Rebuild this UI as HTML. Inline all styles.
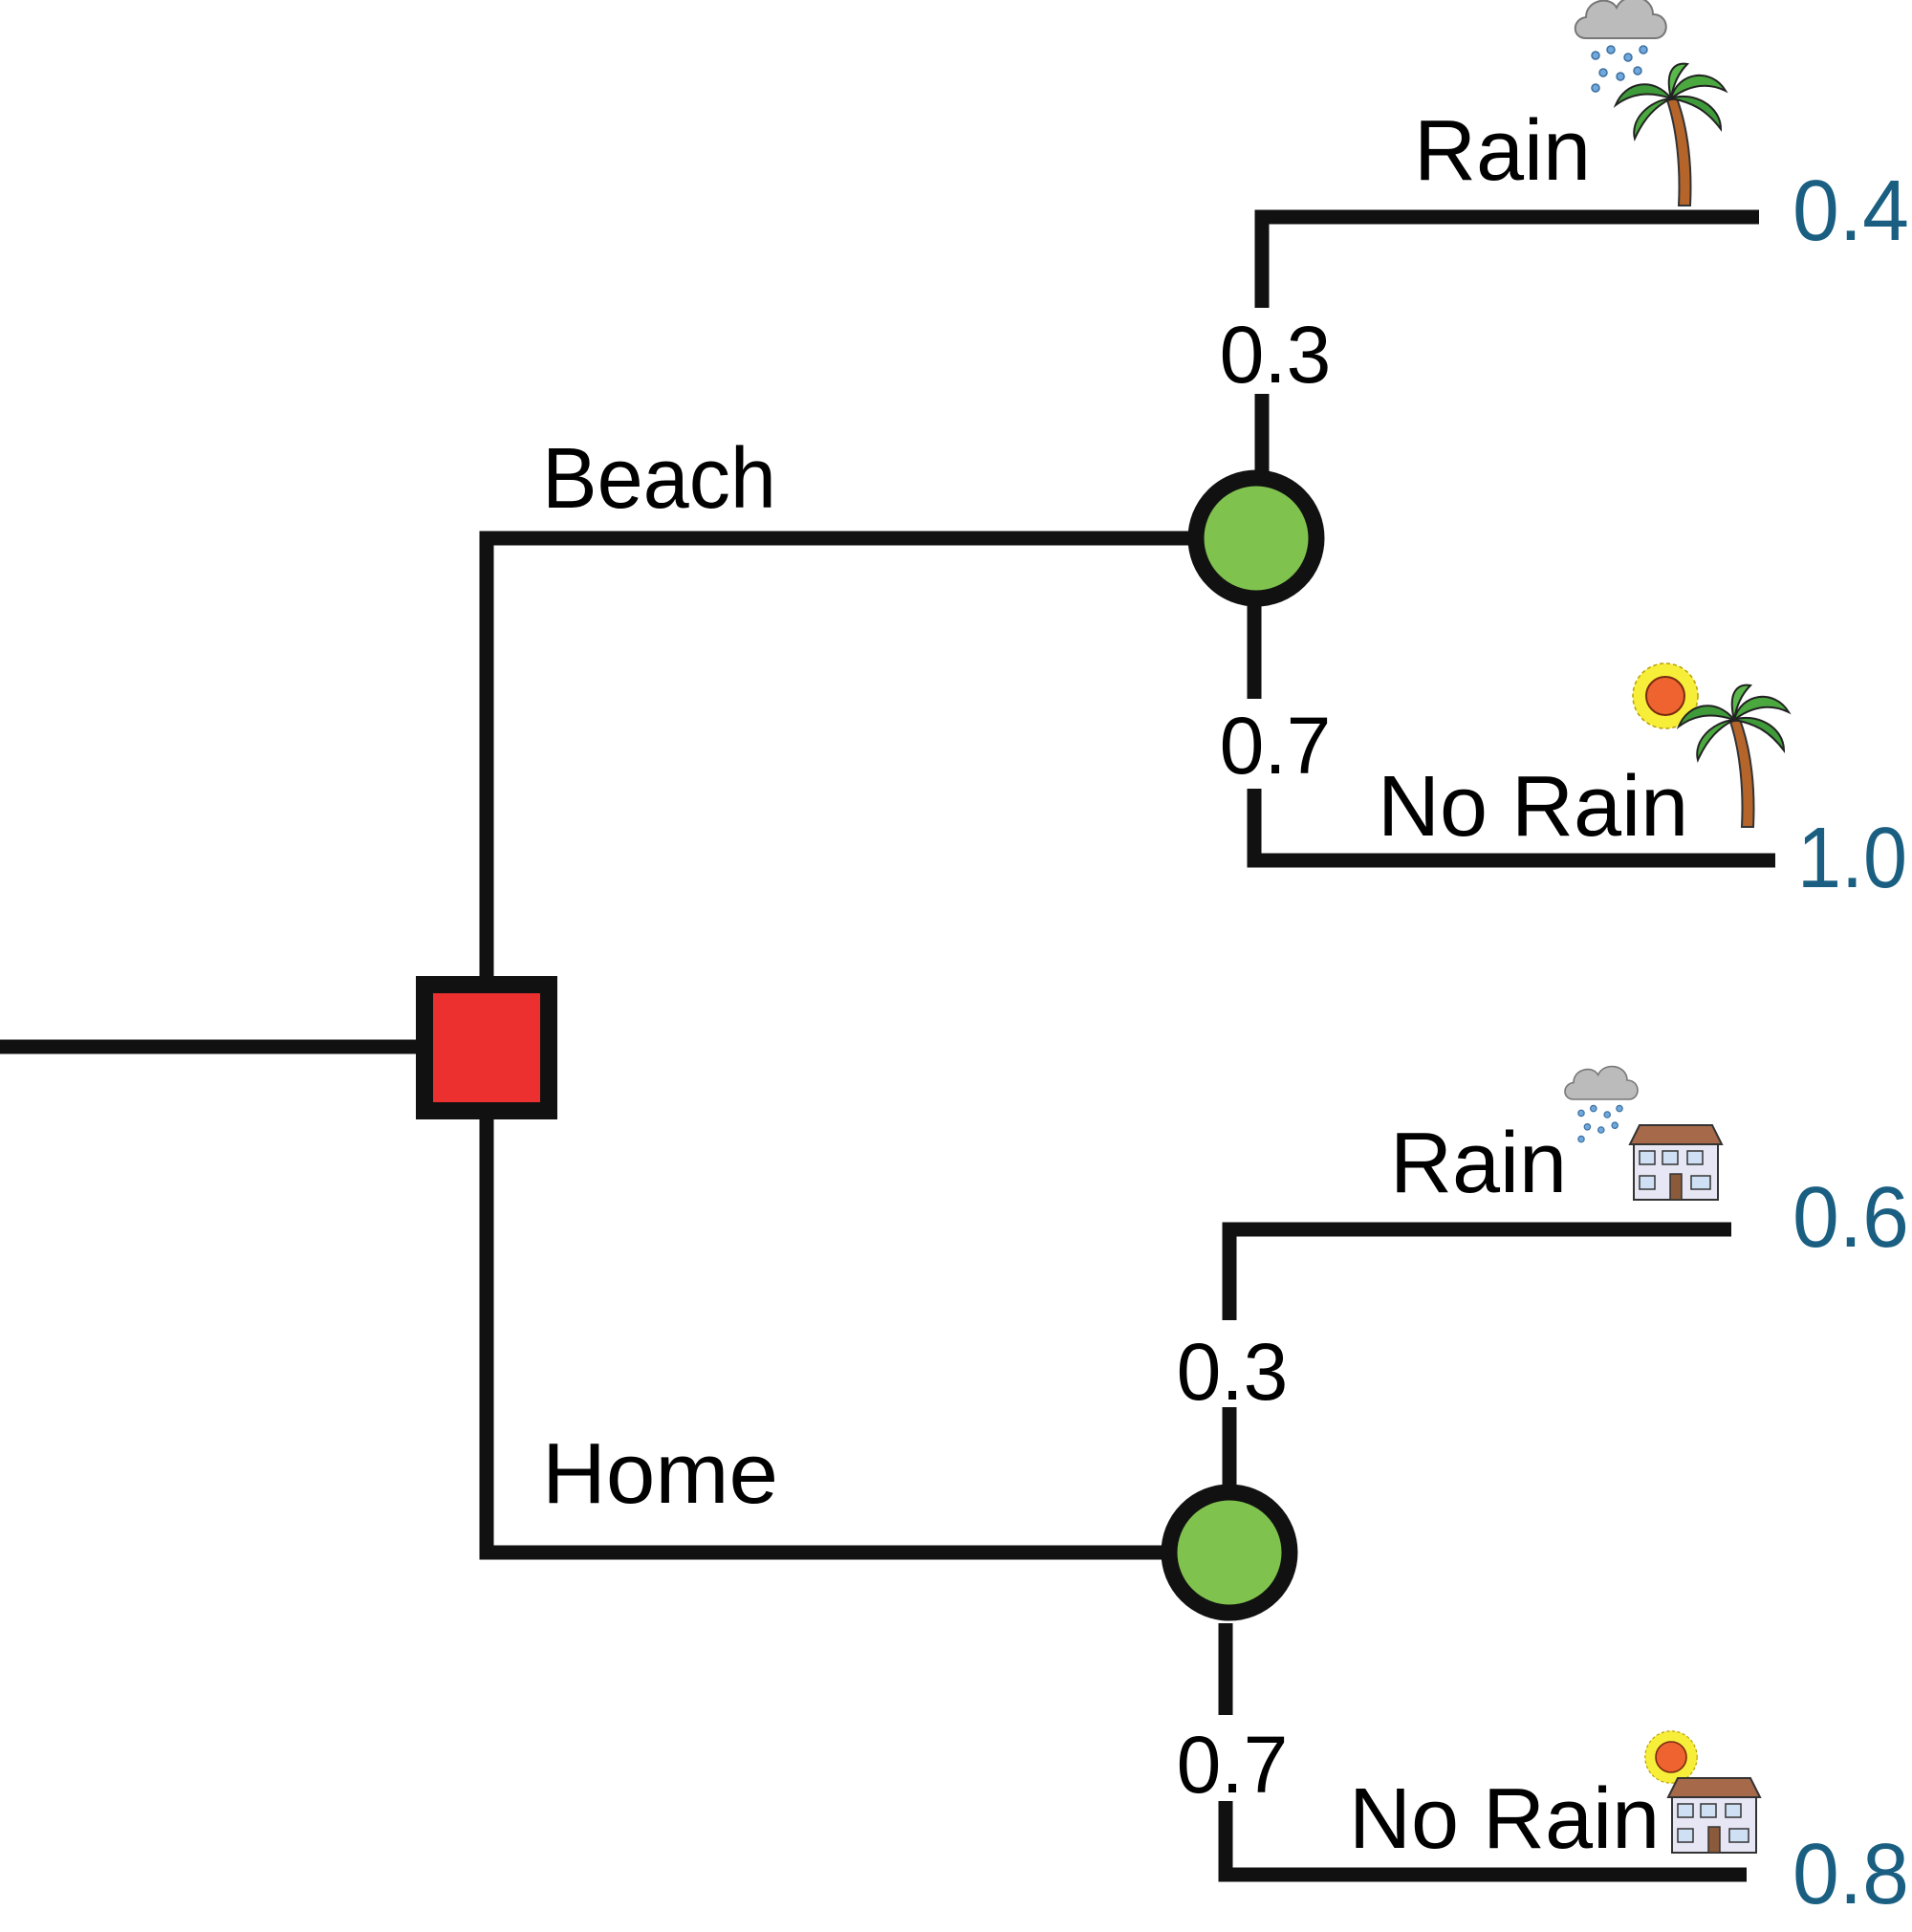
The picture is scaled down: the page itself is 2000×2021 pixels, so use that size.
<!DOCTYPE html>
<html><head><meta charset="utf-8"><style>
html,body{margin:0;padding:0;background:#fff;}
svg{display:block;}
text{font-family:"Liberation Sans",sans-serif;}
</style></head><body>
<svg width="2000" height="2021" viewBox="0 0 2000 2021" xmlns="http://www.w3.org/2000/svg">
<defs>
 <g id="palm">
  <path d="M-4,0 C-2,-40 -6,-80 -16,-110 L-6,-112 C6,-80 10,-40 8,0 Z" fill="#b5652a" stroke="#333" stroke-width="2"/>
  <path d="M-12,-112 C-30,-135 -60,-130 -70,-105 C-50,-120 -30,-118 -12,-112Z" fill="#3f9a3a" stroke="#222" stroke-width="2"/>
  <path d="M-12,-112 C-5,-140 30,-145 45,-120 C25,-130 5,-125 -12,-112Z" fill="#4aa83f" stroke="#222" stroke-width="2"/>
  <path d="M-12,-112 C10,-120 40,-105 40,-80 C25,-100 10,-108 -12,-112Z" fill="#3f9a3a" stroke="#222" stroke-width="2"/>
  <path d="M-12,-112 C-35,-110 -55,-90 -50,-70 C-40,-92 -28,-104 -12,-112Z" fill="#4aa83f" stroke="#222" stroke-width="2"/>
  <path d="M-12,-112 C-20,-145 -5,-150 5,-148 C-5,-138 -10,-125 -12,-112Z" fill="#5ab84a" stroke="#222" stroke-width="2"/>
 </g>
 <g id="cloud">
  <path d="M-40,10 C-55,10 -55,-10 -40,-12 C-40,-30 -15,-35 -8,-22 C0,-40 30,-35 30,-15 C48,-15 48,10 32,10 Z" fill="#bbb" stroke="#777" stroke-width="2"/>
  <g fill="#6fa8dc" stroke="#3d6fa0" stroke-width="1.5">
   <circle cx="-30" cy="28" r="4"/><circle cx="-14" cy="22" r="4"/><circle cx="4" cy="30" r="4"/><circle cx="20" cy="22" r="4"/>
   <circle cx="-22" cy="46" r="4"/><circle cx="-4" cy="50" r="4"/><circle cx="14" cy="44" r="4"/><circle cx="-30" cy="62" r="4"/>
  </g>
 </g>
 <g id="sun">
  <circle r="34" fill="#f7ee3a" stroke="#b9a000" stroke-width="1.5" stroke-dasharray="4 3"/>
  <circle r="20" fill="#ee6330" stroke="#7a2a10" stroke-width="2"/>
 </g>
 <g id="house">
  <path d="M-48,-55 L-38,-75 L38,-75 L48,-55 Z" fill="#a66a4a" stroke="#333" stroke-width="2"/>
  <rect x="-44" y="-55" width="88" height="58" fill="#e6e6f4" stroke="#333" stroke-width="2"/>
  <g fill="#cfe0f5" stroke="#333" stroke-width="1.5">
   <rect x="-38" y="-48" width="16" height="14"/><rect x="-14" y="-48" width="16" height="14"/><rect x="12" y="-48" width="16" height="14"/>
   <rect x="-38" y="-22" width="16" height="14"/><rect x="16" y="-22" width="20" height="14"/>
  </g>
  <rect x="-6" y="-24" width="12" height="27" fill="#8a5a3a" stroke="#333" stroke-width="1.5"/>
 </g>
</defs>
<g stroke="#111" stroke-width="15" fill="none" stroke-linecap="butt">
 <line x1="0" y1="1095" x2="440" y2="1095"/>
 <polyline points="1250,563 509,563 509,1624 1224,1624"/>
 <polyline points="1320,322 1320,227 1840,227"/>
 <line x1="1320" y1="412" x2="1320" y2="500"/>
 <line x1="1312" y1="631" x2="1312" y2="731"/>
 <polyline points="1312,825 1312,900 1857,900"/>
 <polyline points="1286,1381 1286,1286 1811,1286"/>
 <line x1="1286" y1="1472" x2="1286" y2="1559"/>
 <line x1="1282" y1="1698" x2="1282" y2="1794"/>
 <polyline points="1282,1884 1282,1961 1827,1961"/>
</g>
<rect x="444" y="1030" width="130" height="132" fill="#ec3030" stroke="#111" stroke-width="18"/>
<circle cx="1314" cy="563" r="63" fill="#80c24e" stroke="#111" stroke-width="17"/>
<circle cx="1286" cy="1624" r="63" fill="#80c24e" stroke="#111" stroke-width="17"/>
<g font-size="90" fill="#000">
 <text x="567" y="531" textLength="245" lengthAdjust="spacingAndGlyphs">Beach</text>
 <text x="567" y="1572" textLength="247" lengthAdjust="spacingAndGlyphs">Home</text>
 <text x="1479" y="188">Rain</text>
 <text x="1441" y="874">No Rain</text>
 <text x="1454" y="1247">Rain</text>
 <text x="1411" y="1933">No Rain</text>
 <text x="1334" y="400" text-anchor="middle" font-size="84">0.3</text>
 <text x="1334" y="809" text-anchor="middle" font-size="84">0.7</text>
 <text x="1289" y="1464" text-anchor="middle" font-size="84">0.3</text>
 <text x="1289" y="1875" text-anchor="middle" font-size="84">0.7</text>
</g>
<g font-size="90" fill="#1a5f82">
 <text x="1875" y="251" textLength="122" lengthAdjust="spacingAndGlyphs">0.4</text>
 <text x="1880" y="928" textLength="115" lengthAdjust="spacingAndGlyphs">1.0</text>
 <text x="1875" y="1304" textLength="122" lengthAdjust="spacingAndGlyphs">0.6</text>
 <text x="1875" y="1991" textLength="122" lengthAdjust="spacingAndGlyphs">0.8</text>
</g>
<use href="#palm" transform="translate(1760,215)"/>
<use href="#cloud" transform="translate(1699,30)"/>
<use href="#sun" transform="translate(1742,728)"/>
<use href="#palm" transform="translate(1826,865)"/>
<use href="#cloud" transform="translate(1678,1142) scale(0.8)"/>
<use href="#house" transform="translate(1753,1252)"/>
<use href="#sun" transform="translate(1748,1838) scale(0.8)"/>
<use href="#house" transform="translate(1793,1935)"/>
</svg>
</body></html>
